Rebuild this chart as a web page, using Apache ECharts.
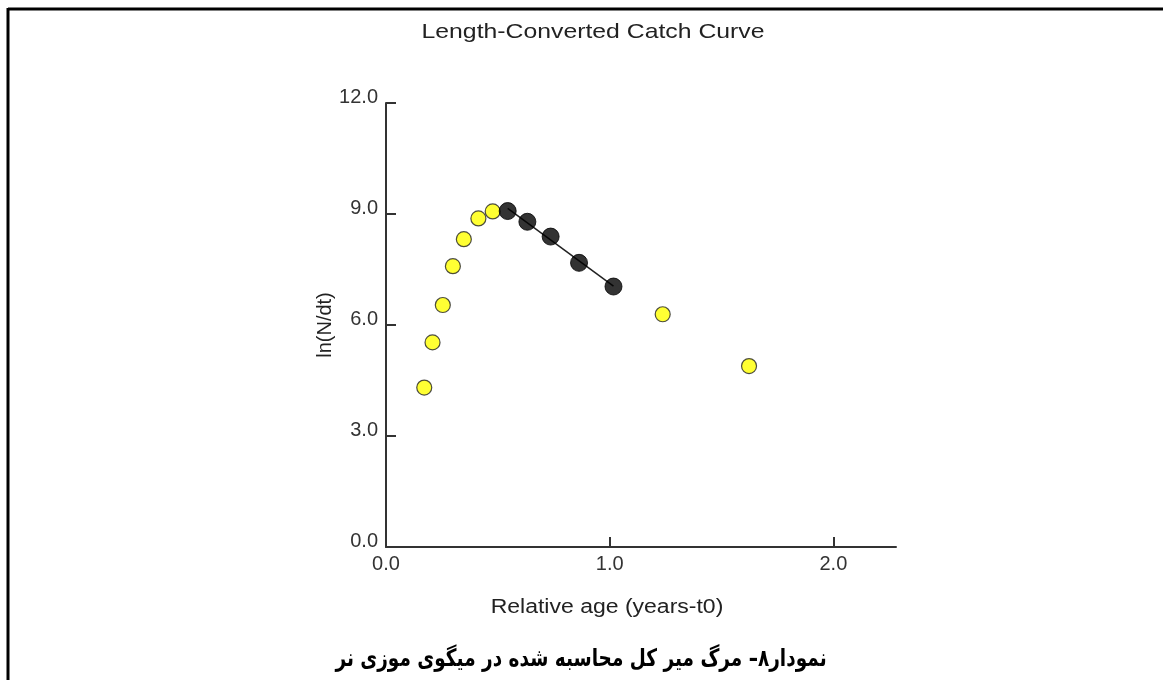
<!DOCTYPE html>
<html>
<head>
<meta charset="utf-8">
<script src="https://cdn.jsdelivr.net/npm/echarts@6/dist/echarts.min.js"></script>
<style>html,body{margin:0;padding:0;background:#fff}#c{width:1163px;height:680px}</style>
</head>
<body>
<div id="c"></div>
<script>
// Data
const unusedAge = [0.171, 0.208, 0.254, 0.299, 0.348, 0.413, 0.477, 1.237, 1.623];
const unusedLn  = [4.31, 5.53, 6.54, 7.59, 8.32, 8.88, 9.07, 6.29, 4.89];
const usedAge = [0.544, 0.632, 0.736, 0.863, 1.017];
const usedLn  = [9.08, 8.79, 8.39, 7.68, 7.04];
const fitAge = [0.544, 1.017];
const fitLn  = [9.15, 7.05];
const xTicks = [0, 1, 2];
const titleText = 'Length-Converted Catch Curve';
const xName = 'Relative age (years-t0)';
const yName = 'ln(N/dt)';
const caption = 'نمودار۸– مرگ میر کل محاسبه شده در میگوی موزی نر';

const F = 'Liberation Sans';
const chart = echarts.init(document.getElementById('c'));
chart.setOption({
  backgroundColor: '#fff',
  animation: false,
  grid: { left: 386, top: 103, right: 267, bottom: 133, containLabel: false },
  xAxis: {
    type: 'value', min: 0, max: 2.28,
    axisLine: { show: true, lineStyle: { color: '#333', width: 2 } },
    axisTick: { show: true, inside: true, length: 10, customValues: xTicks, lineStyle: { color: '#333', width: 2 } },
    axisLabel: { customValues: xTicks, margin: 7, fontFamily: F, fontSize: 20, color: '#333',
      formatter: v => v.toFixed(1) },
    splitLine: { show: false }
  },
  yAxis: {
    type: 'value', min: 0, max: 12, interval: 3,
    name: yName, nameLocation: 'middle', nameGap: 32, nameRotate: 90,
    nameTextStyle: { fontFamily: F, fontSize: 20, color: '#222' },
    axisLine: { show: true, onZero: false, lineStyle: { color: '#333', width: 2 } },
    axisTick: { show: true, inside: true, length: 10, lineStyle: { color: '#333', width: 2 } },
    axisLabel: { margin: 8, fontFamily: F, fontSize: 20, color: '#333', verticalAlign: 'bottom', lineHeight: 12,
      formatter: v => v.toFixed(1) },
    splitLine: { show: false }
  },
  series: [
    { type: 'line', data: fitAge.map((x, i) => [x, fitLn[i]]), symbol: 'none',
      lineStyle: { color: '#222', width: 1.5 }, z: 1 },
    { type: 'scatter', data: unusedAge.map((x, i) => [x, unusedLn[i]]), symbol: 'circle', symbolSize: 15,
      itemStyle: { color: '#ffff00', borderColor: '#222', borderWidth: 1.2 }, z: 3 },
    { type: 'scatter', data: usedAge.map((x, i) => [x, usedLn[i]]), symbol: 'circle', symbolSize: 17,
      itemStyle: { color: '#000', borderColor: '#000', borderWidth: 1 }, z: 3 }
  ],
  graphic: [
    { type: 'line', shape: { x1: 8, y1: 9, x2: 1163, y2: 9 }, style: { stroke: '#000', lineWidth: 3 } },
    { type: 'line', shape: { x1: 8, y1: 8, x2: 8, y2: 680 }, style: { stroke: '#000', lineWidth: 3 } },
    { type: 'text', x: 593, y: 32, scaleX: 1.18,
      style: { text: titleText, font: 'normal 21px "Liberation Sans"', fill: '#222', textAlign: 'center', textVerticalAlign: 'middle' } },
    { type: 'text', x: 607, y: 607, scaleX: 1.15,
      style: { text: xName, font: 'normal 20px "Liberation Sans"', fill: '#222', textAlign: 'center', textVerticalAlign: 'middle' } },
    { type: 'text', x: 581, y: 660, scaleX: 0.77,
      style: { text: caption, font: 'bold 24px "DejaVu Sans"', fill: '#000', textAlign: 'center', textVerticalAlign: 'middle' } }
  ]
});
</script>
</body>
</html>
